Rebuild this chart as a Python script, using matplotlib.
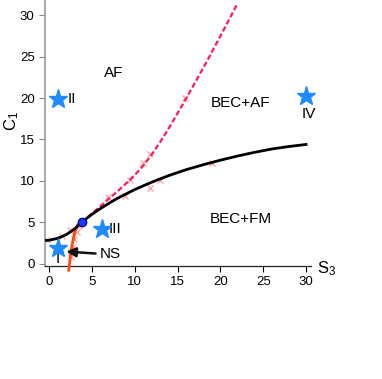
import matplotlib
matplotlib.use("Agg")
import matplotlib.pyplot as plt

plt.rcParams['font.family'] = ['Liberation Sans', 'DejaVu Sans']

# Black boundary (BEC+FM / others)
black_s3 = [-0.3, 0, 1, 2, 3, 3.8, 5, 6, 7, 8, 10, 12, 14, 16, 18, 20, 22, 24, 26, 28, 30]
black_c1 = [2.8, 2.82, 3.05, 3.5, 4.2, 5.0, 5.95, 6.65, 7.3, 7.9, 8.95, 9.85, 10.65, 11.35, 11.95, 12.5, 13.0, 13.45, 13.85, 14.15, 14.4]

# Pink dashed boundary (AF / BEC+AF)
pink_s3 = [3.8, 5, 6, 7, 8, 9, 10, 11, 12, 13, 14, 16, 18, 20, 22]
pink_c1 = [5.0, 6.05, 6.95, 7.85, 8.75, 9.7, 10.7, 11.85, 13.2, 14.75, 16.4, 19.95, 23.65, 27.5, 31.45]

# Orange boundary (NS)
orange_s3 = [2.3, 2.5, 2.65, 2.85, 3.05, 3.35, 3.75]
orange_c1 = [-0.8, 1.0, 2.0, 3.1, 4.0, 4.7, 5.0]

# Raw data points (pale crosses)
pts_s3 = [6.9, 9.45, 11.0, 11.8, 15.9, -0.3, 1.5, 8.9, 11.8, 13.0, 19.0, 2.45, 2.55, 2.75, 2.95, 3.2, 3.5]
pts_c1 = [8.1, 10.1, 12.1, 13.3, 20.0, 2.9, 3.3, 8.2, 9.1, 10.1, 12.1, 4.05, 0.8, 2.0, 3.0, 3.8, 4.5]

# Tricritical point
tri_s3, tri_c1 = 3.8, 5.0

# Stars
star_s3 = [1.0, 1.0, 6.15, 30.0]
star_c1 = [1.9, 19.9, 4.2, 20.2]

fig = plt.figure(figsize=(3.82, 3.79), dpi=100)
ax = fig.add_axes([0.118, 0.298, 0.696, 0.702])

ax.plot(pts_s3, pts_c1, 'x', color='#ff9090', ms=4, mew=1, alpha=0.8, zorder=2)
ax.plot(orange_s3, orange_c1, '-', color='#ff4a10', lw=2, zorder=3, clip_on=False)
ax.plot(pink_s3, pink_c1, '--', color='#ff1a5a', lw=1.6, dashes=(2.4, 1.2), zorder=3)
ax.plot(black_s3, black_c1, '-', color='black', lw=2, zorder=4)
ax.plot([tri_s3], [tri_c1], 'o', color='#1a3cff', mec='#0a1090', ms=6, mew=1, zorder=5)
ax.plot(star_s3, star_c1, '*', color='#1e8cff', ms=14, mec='#1e8cff', zorder=5, clip_on=False)

ax.text(2.2, 19.9, 'II', fontsize=11, va='center', ha='left')
ax.text(7.0, 4.2, 'III', fontsize=11, va='center', ha='left')
ax.text(30.3, 18.1, 'IV', fontsize=11, va='center', ha='center')
ax.text(1.0, 0.5, 'I', fontsize=11, va='center', ha='center')
ax.text(7.5, 23.0, 'AF', fontsize=11, va='center', ha='center')
ax.text(22.3, 19.4, 'BEC+AF', fontsize=11, va='center', ha='center')
ax.text(22.4, 5.35, 'BEC+FM', fontsize=11, va='center', ha='center')
ax.annotate('NS', xy=(2.0, 1.45), xytext=(5.9, 1.1), fontsize=11, va='center', ha='left',
            arrowprops=dict(arrowstyle='-|>', color='#111111', lw=1.8, mutation_scale=14,
                            shrinkA=1, shrinkB=0))

ax.set_xlim(-0.47, 30.57)
ax.set_ylim(-0.3, 31.86)
ax.set_xticks([0, 5, 10, 15, 20, 25, 30])
ax.set_yticks([0, 5, 10, 15, 20, 25, 30])
ax.tick_params(labelsize=9.5, length=4, width=0.8)
ax.tick_params(axis='y', color='#888888')
for s in ['top', 'right']:
    ax.spines[s].set_visible(False)
ax.spines['left'].set_color('#999999')
ax.spines['left'].set_linewidth(1.2)
ax.spines['bottom'].set_color('#222222')
ax.spines['bottom'].set_linewidth(0.9)

fig.text(0.03, 0.68, r'$\mathregular{C_1}$', rotation=90, fontsize=12, va='center', ha='center')
fig.text(0.83, 0.292, r'$\mathregular{S_3}$', fontsize=12, va='center', ha='left')

fig.savefig('out.png', dpi=100)
